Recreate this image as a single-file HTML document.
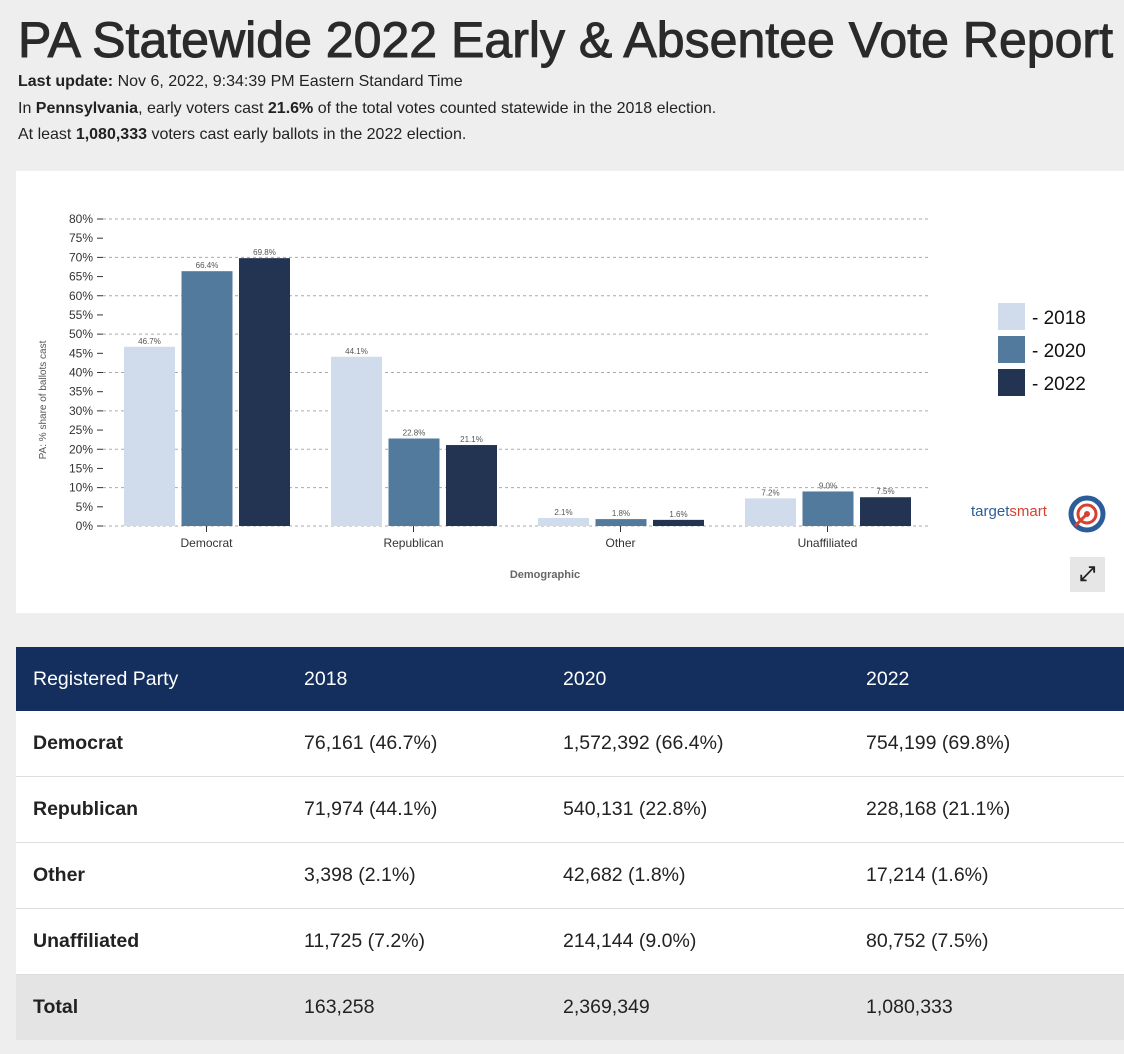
<!DOCTYPE html>
<html><head><meta charset="utf-8">
<style>
body{margin:0;width:1124px;height:1054px;background:#eeeeee;font-family:"Liberation Sans",sans-serif;color:#222;overflow:hidden;position:relative}
.info{position:absolute;left:18px;font-size:16px;color:#222;white-space:nowrap}
.panel{position:absolute;left:16px;top:171px;width:1108px;height:442px;background:#fff}
table{position:absolute;left:16px;top:647px;width:1108px;border-collapse:collapse;font-size:19.5px}
th{background:#142f5e;color:#fff;font-weight:normal;text-align:left;height:64px;padding:0}
td{height:65px;padding:0;border-bottom:1px solid #ddd;background:#fff}
td:first-child,th:first-child{padding-left:17px;font-weight:bold}
th:first-child{font-weight:normal}
tr.total td{background:#e4e4e4;border:none}
</style></head><body>
<svg style="position:absolute;left:0;top:0" width="1124" height="75"><text x="18" y="57" font-family="Liberation Sans, sans-serif" font-size="50" fill="#2a2a2a" stroke="#2a2a2a" stroke-width="1" textLength="1095" lengthAdjust="spacingAndGlyphs">PA Statewide 2022 Early &amp; Absentee Vote Report</text></svg>
<div class="info" style="top:73px"><b>Last update:</b> Nov 6, 2022, 9:34:39 PM Eastern Standard Time</div>
<div class="info" style="top:100px">In <b>Pennsylvania</b>, early voters cast <b>21.6%</b> of the total votes counted statewide in the 2018 election.</div>
<div class="info" style="top:126px">At least <b>1,080,333</b> voters cast early ballots in the 2022 election.</div>
<div class="panel"></div>
<svg id="chart" style="position:absolute;left:0;top:0" width="1124" height="620"></svg>
<div style="position:absolute;left:971px;top:503px;font-size:15px"><span style="color:#2c5c9a">target</span><span style="color:#d9412f">smart</span></div>
<svg style="position:absolute;left:1067px;top:494px" width="40" height="40"><circle cx="20" cy="20" r="16" fill="none" stroke="#2c5c9a" stroke-width="5"/><circle cx="20" cy="20" r="9" fill="none" stroke="#d9412f" stroke-width="3"/><circle cx="20" cy="20" r="3" fill="#d9412f"/><line x1="8" y1="32" x2="20" y2="20" stroke="#d9412f" stroke-width="3"/></svg>
<div style="position:absolute;left:1070px;top:557px;width:35px;height:35px;background:#e6e6e6;text-align:center;line-height:35px;font-size:20px;font-weight:bold">⤢</div>
<table>
<tr><th style="width:271px">Registered Party</th><th style="width:259px">2018</th><th style="width:303px">2020</th><th>2022</th></tr>
<tr><td>Democrat</td><td>76,161 (46.7%)</td><td>1,572,392 (66.4%)</td><td>754,199 (69.8%)</td></tr>
<tr><td>Republican</td><td>71,974 (44.1%)</td><td>540,131 (22.8%)</td><td>228,168 (21.1%)</td></tr>
<tr><td>Other</td><td>3,398 (2.1%)</td><td>42,682 (1.8%)</td><td>17,214 (1.6%)</td></tr>
<tr><td>Unaffiliated</td><td>11,725 (7.2%)</td><td>214,144 (9.0%)</td><td>80,752 (7.5%)</td></tr>
<tr class="total"><td>Total</td><td>163,258</td><td>2,369,349</td><td>1,080,333</td></tr>
</table>
<script>
const categories=["Democrat","Republican","Other","Unaffiliated"];
const years=["2018","2020","2022"];
const v2018=[46.7,44.1,2.1,7.2];
const v2020=[66.4,22.8,1.8,9.0];
const v2022=[69.8,21.1,1.6,7.5];
const ticks=[0,5,10,15,20,25,30,35,40,45,50,55,60,65,70,75,80];
const colors=["#d0dceb","#527a9c","#233452"];
const series=[v2018,v2020,v2022];
const svg=document.getElementById('chart');
const NS="http://www.w3.org/2000/svg";
const y0=526,y1=219,xL=103,xR=931;
const y=v=>y0-(v/80)*(y0-y1);
const band=(xR-xL)/categories.length;
const x=i=>xL+i*band;
function mk(tag,attrs,txt){const e=document.createElementNS(NS,tag);for(const k in attrs)e.setAttribute(k,attrs[k]);if(txt!==undefined)e.textContent=txt;svg.appendChild(e);return e;}
ticks.forEach(t=>{
  const g=mk('line',{x1:97,x2:103,y1:y(t),y2:y(t),stroke:'#333'});
  
  
  if(t%10===0){const l=mk('line',{x1:103,x2:xR,y1:y(t),y2:y(t),stroke:'#aaa','stroke-dasharray':'3,3'});
  
  }
  const tl=mk('text',{x:93,y:y(t)+4,'text-anchor':'end','font-size':12,fill:'#333'},t+'%');
  
  
});
categories.forEach((c,i)=>{
  series.forEach((s,j)=>{
    const bx=x(i)+21+j*57.5;
    const r=mk('rect',{x:bx,y:y(s[i]),width:51,height:y0-y(s[i]),fill:colors[j]});
    
    
    const lb=mk('text',{x:bx+25.5,y:y(s[i])-3,'text-anchor':'middle','font-size':8,fill:'#555'},s[i].toFixed(1)+'%');
    
    
  });
  const cx=x(i)+band/2;
  mk('line',{x1:cx,x2:cx,y1:y0,y2:y0+6,stroke:'#333'});
  const cl=mk('text',{x:cx,y:547,'text-anchor':'middle','font-size':12,fill:'#333'},c);
  
  
});
const xt=mk('text',{x:545,y:578,'text-anchor':'middle','font-size':11,'font-weight':'bold',fill:'#666'},'Demographic');


const yt=mk('text',{x:0,y:0,transform:'translate(46,400) rotate(-90)','text-anchor':'middle','font-size':10,fill:'#555'},'PA: % share of ballots cast');


years.forEach((yr,j)=>{
  const r=mk('rect',{x:998,y:303+j*33,width:27,height:27,fill:colors[j]});
  
  
  const t=mk('text',{x:1032,y:324+j*33,'font-size':19,fill:'#111'},'- '+yr);
  
  
});
</script>
</body></html>
